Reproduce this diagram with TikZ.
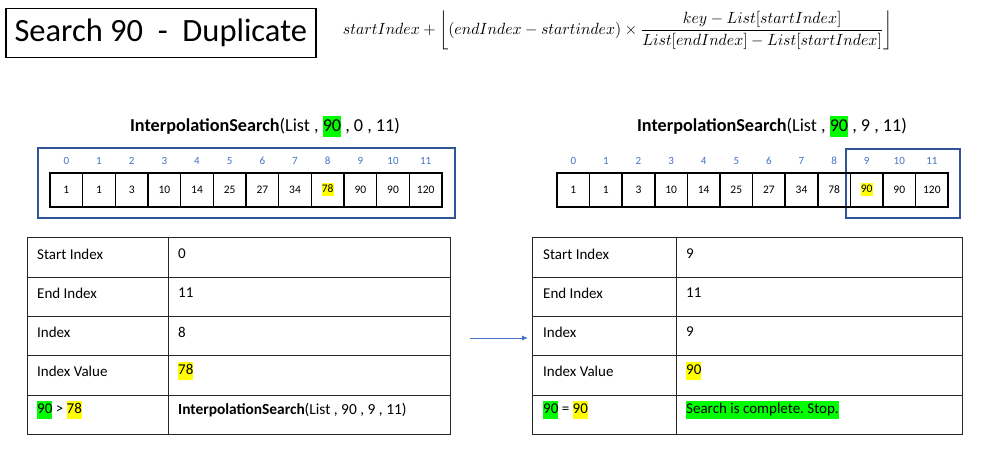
\documentclass[tikz,border=0pt]{standalone}
\usepackage{fontspec}
\usepackage{graphicx}
\setmainfont{Carlito}
\usetikzlibrary{arrows.meta}
\definecolor{idxblue}{HTML}{4472C4}
\definecolor{boxblue}{HTML}{2F5597}
\definecolor{hlgreen}{HTML}{00FF00}
\definecolor{hlyellow}{HTML}{FFFF00}
\newcommand\hlg[1]{{\setlength\fboxsep{0pt}\colorbox{hlgreen}{\strut #1}}}
\newcommand\hly[1]{{\setlength\fboxsep{0pt}\colorbox{hlyellow}{\strut #1}}}
\tikzset{
  cell/.style={draw=black, line width=1.6pt, minimum width=32.67pt, minimum height=34pt, inner sep=0pt, font=\fontsize{11.5}{13}\selectfont},
  idx/.style={text=idxblue, inner sep=0pt, font=\fontsize{11}{13}\selectfont},
  rangebox/.style={draw=boxblue, line width=1.4pt, inner sep=0pt},
  func/.style={inner sep=0pt, font=\fontsize{18.2}{21}\selectfont},
  tline/.style={draw=black!85, line width=1pt},
  ttext/.style={anchor=west, inner sep=0pt, font=\fontsize{15}{18}\selectfont},
  link/.style={draw=idxblue, line width=0.9pt, -{Latex[length=6pt,width=5pt]}}
}
\begin{document}
\begin{tikzpicture}[x=1pt,y=-1pt]
\useasboundingbox (0,0) rectangle (983,454);
% title
\node[draw, line width=1.5pt, minimum width=310pt, minimum height=49pt, inner sep=0pt, anchor=north west,
  font=\fontsize{32.5}{38}\selectfont] (title) at (5,8) {Search 90\ \ -\ \ Duplicate};
% formula
\node[inner sep=0pt, anchor=north] (formula) at (618,11) {\resizebox*{550pt}{39pt}{$startIndex + \left\lfloor (endIndex - startindex) \times {\displaystyle\frac{key - List[startIndex]}{List[endIndex] - List[startIndex]}}\right\rfloor$}};
% left array
\node[func] (Lfunc) at (265,127) {\textbf{InterpolationSearch}(List , \hlg{90} , 0 , 11)};
\node[rangebox, minimum width=417pt, minimum height=70pt] (Lbox) at (246.5,183) {};
\foreach \v [count=\i from 0] in {1,1,3,10,14,25,27,34,{\hly{78}},90,90,120} {
  \node[cell] (L\i) at ({66.33+32.67*\i},190) {\v};
  \node[idx] (Li\i) at ({66.33+32.67*\i},161) {\i};
}
% right array
\node[func] (Rfunc) at (772,127) {\textbf{InterpolationSearch}(List , \hlg{90} , 9 , 11)};
\node[rangebox, minimum width=114pt, minimum height=69pt] (Rbox) at (903,183.5) {};
\foreach \v [count=\i from 0] in {1,1,3,10,14,25,27,34,78,{\hly{90}},90,120} {
  \node[cell] (R\i) at ({573.3+32.6*\i},190) {\v};
  \node[idx] (Ri\i) at ({573.3+32.6*\i},161) {\i};
}
% left table
\draw[tline] (27,238) rectangle (450,434);
\draw[tline] (168,238) -- (168,434);
\foreach \y in {278,317,356,395} \draw[tline] (27,\y) -- (450,\y);
\node[ttext] (lt1a) at (37,254) {Start Index};
\node[ttext] (lt1b) at (178,254) {0};
\node[ttext] (lt2a) at (37,293) {End Index};
\node[ttext] (lt2b) at (178,293) {11};
\node[ttext] (lt3a) at (37,332) {Index};
\node[ttext] (lt3b) at (178,332) {8};
\node[ttext] (lt4a) at (37,371) {Index Value};
\node[ttext] (lt4b) at (178,371) {\hly{78}};
\node[ttext] (lt5a) at (37,410) {\hlg{90} > \hly{78}};
\node[ttext, font=\fontsize{15.4}{18}\selectfont] (lt5b) at (178,410) {\textbf{InterpolationSearch}(List , 90 , 9 , 11)};
% right table
\draw[tline] (532,238) rectangle (962,434);
\draw[tline] (676,238) -- (676,434);
\foreach \y in {278,317,356,395} \draw[tline] (532,\y) -- (962,\y);
\node[ttext] (rt1a) at (543,254) {Start Index};
\node[ttext] (rt1b) at (686,254) {9};
\node[ttext] (rt2a) at (543,293) {End Index};
\node[ttext] (rt2b) at (686,293) {11};
\node[ttext] (rt3a) at (543,332) {Index};
\node[ttext] (rt3b) at (686,332) {9};
\node[ttext] (rt4a) at (543,371) {Index Value};
\node[ttext] (rt4b) at (686,371) {\hly{90}};
\node[ttext] (rt5a) at (543,410) {\hlg{90} = \hly{90}};
\node[ttext] (rt5b) at (686,410) {\hlg{Search is complete.\ Stop.}};
% connector
\coordinate (aStart) at (470,338);
\coordinate (aEnd) at (528,338);
\draw[link] (aStart) -- (aEnd);
\end{tikzpicture}
\end{document}
